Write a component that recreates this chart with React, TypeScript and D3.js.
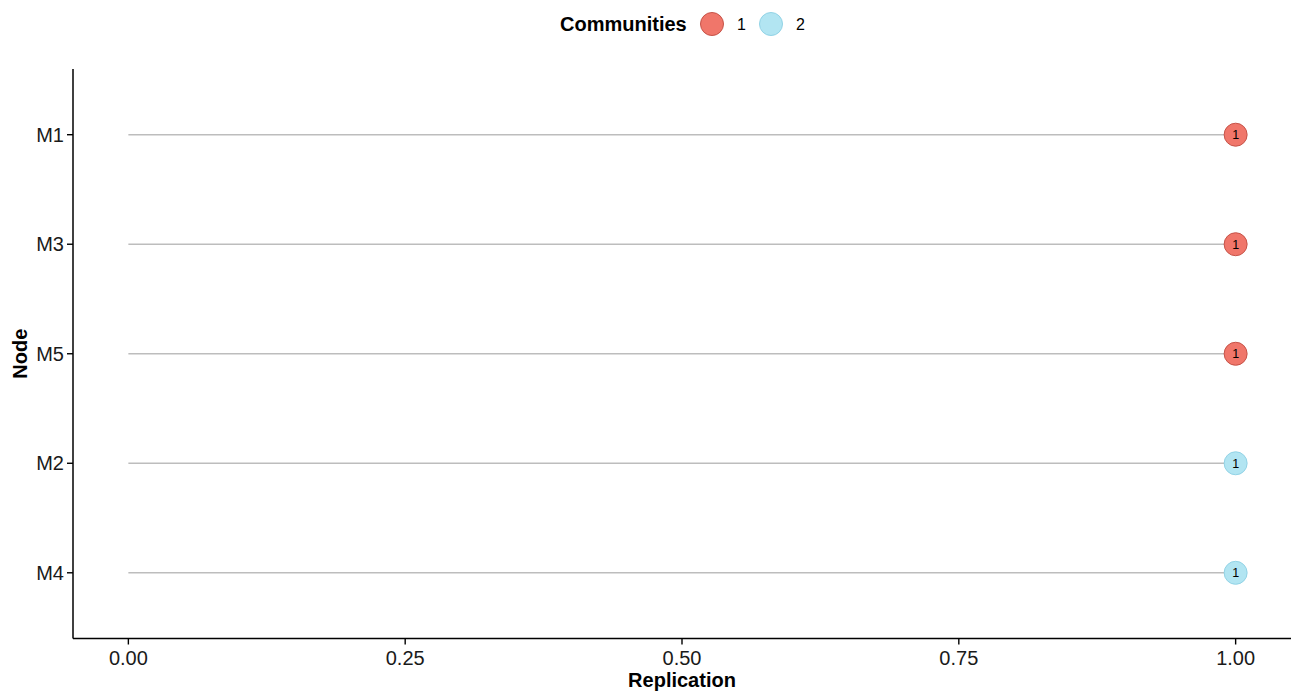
import React from "react";
import * as d3 from "d3";

const nodes = ["M1", "M3", "M5", "M2", "M4"];
const replication = [1, 1, 1, 1, 1];
const community = ["1", "1", "1", "2", "2"];
const communities = ["1", "2"];
const xTicks = [0, 0.25, 0.5, 0.75, 1];

const W = 1292;
const H = 691;
const left = 73;
const right = 1291;
const top = 69;
const bottom = 638.5;

const fillColors: Record<string, string> = { "1": "#F0766A", "2": "#B2E5F2" };
const strokeColors: Record<string, string> = { "1": "#C65348", "2": "#92D3E6" };

export default function App() {
  const span = right - left;
  const x = d3.scaleLinear().domain([0, 1]).range([left + span * 0.05 / 1.1, right - span * 0.05 / 1.1]);
  const y = d3.scalePoint<string>().domain(nodes).range([top, bottom]).padding(0.6);
  const font = "'Liberation Sans', Arial, sans-serif";
  return (
    <svg width={W} height={H} style={{ position: "absolute", left: 0, top: 0, background: "#fff" }} fontFamily={font}>
      {/* legend */}
      <g>
        <text x={560} y={31} fontSize={20} fontWeight="bold" fill="#000">Communities</text>
        {communities.map((c, i) => (
          <g key={c}>
            <circle cx={712 + i * 59} cy={24} r={11.5} fill={fillColors[c]} stroke={strokeColors[c]} strokeWidth={1} />
            <text x={737 + i * 59} y={30} fontSize={16} fill="#000">{c}</text>
          </g>
        ))}
      </g>
      {/* segments */}
      {nodes.map((n, i) => (
        <line key={"s" + n} x1={x(0)} x2={x(replication[i])} y1={y(n)} y2={y(n)} stroke="#BDBDBD" strokeWidth={1.6} />
      ))}
      {/* points */}
      {nodes.map((n, i) => (
        <g key={"p" + n}>
          <circle cx={x(replication[i])} cy={y(n)} r={11.5} fill={fillColors[community[i]]} stroke={strokeColors[community[i]]} strokeWidth={1} />
          <text x={x(replication[i])} y={(y(n) as number) + 4.5} fontSize={12.5} textAnchor="middle" fill="#000">{replication[i]}</text>
        </g>
      ))}
      {/* axes */}
      <line x1={left} x2={left} y1={top} y2={bottom} stroke="#000" strokeWidth={1.5} />
      <line x1={left} x2={right} y1={bottom} y2={bottom} stroke="#000" strokeWidth={1.5} />
      {nodes.map((n) => (
        <g key={"yt" + n}>
          <line x1={left - 6} x2={left} y1={y(n)} y2={y(n)} stroke="#000" strokeWidth={1.4} />
          <text x={left - 9} y={(y(n) as number) + 7} fontSize={20} textAnchor="end" fill="#1a1a1a">{n}</text>
        </g>
      ))}
      {xTicks.map((t) => (
        <g key={"xt" + t}>
          <line x1={x(t)} x2={x(t)} y1={bottom} y2={bottom + 6} stroke="#000" strokeWidth={1.4} />
          <text x={x(t)} y={bottom + 26} fontSize={20} textAnchor="middle" fill="#1a1a1a">{d3.format(".2f")(t)}</text>
        </g>
      ))}
      <text x={682} y={687} fontSize={20} fontWeight="bold" textAnchor="middle" fill="#000">Replication</text>
      <text transform={`translate(27,${(top + bottom) / 2}) rotate(-90)`} fontSize={20} fontWeight="bold" textAnchor="middle" fill="#000">Node</text>
    </svg>
  );
}
